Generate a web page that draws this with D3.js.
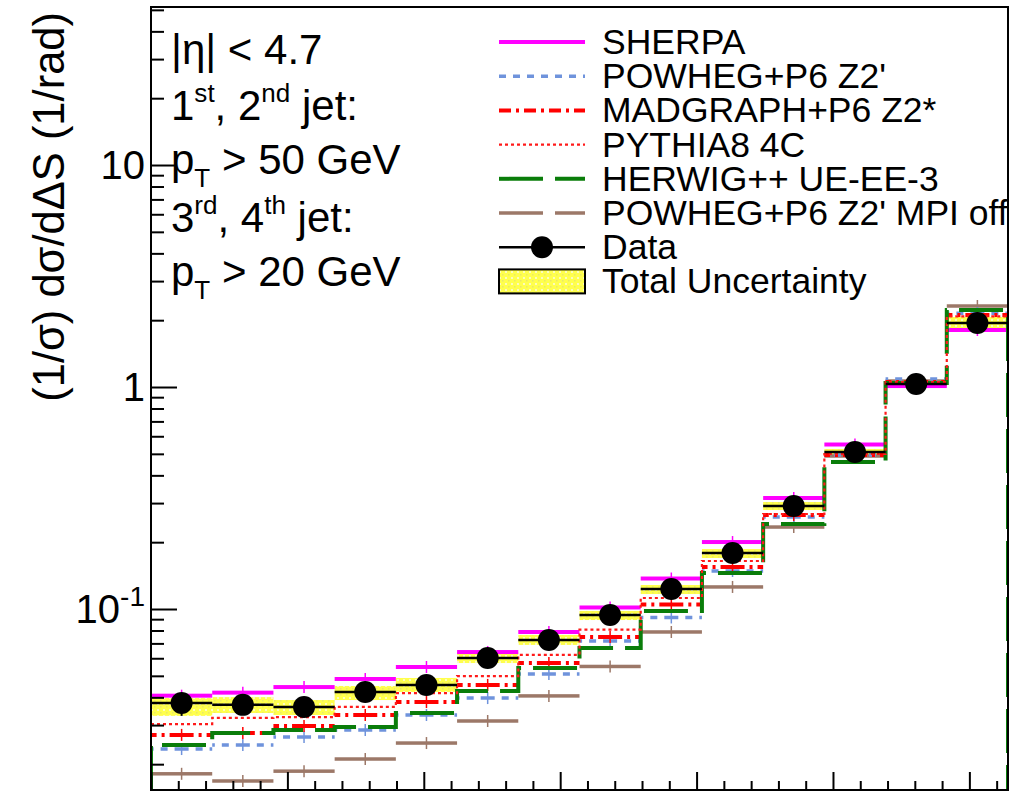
<!DOCTYPE html>
<html>
<head>
<meta charset="utf-8">
<script src="https://cdn.jsdelivr.net/npm/d3@7"></script>
<style>
  body { margin: 0; background: #fff; }
  svg { display: block; }
  text { font-family: "Liberation Sans", Arial, Helvetica, sans-serif; fill: #000; }
</style>
</head>
<body>
<svg id="chart" width="1028" height="791"></svg>
<script>
// Normalised ΔS distribution: 14 equal bins from 0 to π
const binEdges = d3.range(15).map(i => i * Math.PI / 14);

const dataValues = [0.0377, 0.0370, 0.0362, 0.0423, 0.0455, 0.0602, 0.0725, 0.0940, 0.1231, 0.1788, 0.2911, 0.5095, 1.032, 1.942];
const bandLow    = [0.0330, 0.0340, 0.0333, 0.0389, 0.0423, 0.0571, 0.0689, 0.0892, 0.1168, 0.1697, 0.2792, 0.4889, 1.000, 1.844];
const bandHigh   = [0.0397, 0.0401, 0.0389, 0.0450, 0.0489, 0.0640, 0.0764, 0.0980, 0.1283, 0.1863, 0.3034, 0.5256, 1.064, 2.067];

const sherpaValues   = [0.0407, 0.0420, 0.0445, 0.0484, 0.0548, 0.0640, 0.0788, 0.1016, 0.1372, 0.2003, 0.3162, 0.5508, 1.010, 1.806];
const powhegValues   = [0.0234, 0.0244, 0.0265, 0.0285, 0.0333, 0.0397, 0.0509, 0.0718, 0.0916, 0.1483, 0.2597, 0.4940, 1.086, 2.150];
const madgraphValues = [0.0271, 0.0276, 0.0297, 0.0333, 0.0381, 0.0455, 0.0571, 0.0748, 0.1048, 0.1546, 0.2652, 0.4940, 1.053, 2.110];
const pythia8Values  = [0.0303, 0.0323, 0.0326, 0.0362, 0.0418, 0.0499, 0.0621, 0.0808, 0.1121, 0.1645, 0.2679, 0.4992, 1.053, 2.080];
const herwigValues   = [0.0244, 0.0276, 0.0285, 0.0294, 0.0340, 0.0427, 0.0542, 0.0667, 0.0980, 0.1453, 0.2415, 0.4594, 1.042, 2.222];
const mpiOffValues   = [0.0181, 0.0168, 0.0186, 0.0211, 0.0249, 0.0313, 0.0406, 0.0551, 0.0788, 0.1257, 0.2340, 0.4889, 1.064, 2.317];

const yMajorTicks = [0.1, 1, 10];
const xMajorTicks = [0, 0.5, 1, 1.5, 2, 2.5, 3];

const infoLines = [
  [{t: "|η| < 4.7"}],
  [{t: "1"}, {t: "st", s: "sup"}, {t: ", 2"}, {t: "nd", s: "sup"}, {t: " jet:"}],
  [{t: "p"}, {t: "T", s: "sub"}, {t: " > 50 GeV"}],
  [{t: "3"}, {t: "rd", s: "sup"}, {t: ", 4"}, {t: "th", s: "sup"}, {t: " jet:"}],
  [{t: "p"}, {t: "T", s: "sub"}, {t: " > 20 GeV"}]
];

// Monte Carlo predictions: "bars" = per-bin error-bar style, "steps" = histogram outline
const models = [
  {name: "SHERPA",                 values: sherpaValues,   color: "#ff00ff", dash: null,          width: 4,   style: "bars"},
  {name: "POWHEG+P6 Z2'",          values: powhegValues,   color: "#6f93dc", dash: "7,7",        width: 3.5, style: "bars"},
  {name: "MADGRAPH+P6 Z2*",        values: madgraphValues, color: "#ff0000", dash: "12,5,3,5",   width: 4,   style: "bars"},
  {name: "PYTHIA8 4C",             values: pythia8Values,  color: "#ff1a1a", dash: "3,3",        width: 2.2, style: "steps"},
  {name: "HERWIG++ UE-EE-3",       values: herwigValues,   color: "#0a7d0a", dash: "44,12",      width: 4,   style: "steps"},
  {name: "POWHEG+P6 Z2' MPI off",  values: mpiOffValues,   color: "#9c7868", dash: "44,12",      width: 3.5, style: "bars"}
];
const drawOrder = [5, 1, 2, 0, 4, 3];

const frame = {left: 151, right: 1008, top: 7, bottom: 790};

const svg = d3.select("#chart");
const x = d3.scaleLinear().domain([0, Math.PI]).range([frame.left, frame.right]);
const y = d3.scaleLog().domain([0.0153, 51.5]).range([frame.bottom, frame.top]);

const defs = svg.append("defs");
defs.append("clipPath").attr("id", "plotClip")
  .append("rect")
  .attr("x", frame.left).attr("y", frame.top)
  .attr("width", frame.right - frame.left).attr("height", frame.bottom - frame.top);

const pat = defs.append("pattern").attr("id", "bandFill")
  .attr("patternUnits", "userSpaceOnUse").attr("width", 6).attr("height", 6);
pat.append("rect").attr("width", 6).attr("height", 6).attr("fill", "#ffff4d");
pat.append("rect").attr("x", 1).attr("y", 1).attr("width", 2).attr("height", 2).attr("fill", "#fbfbc0");
pat.append("rect").attr("x", 4).attr("y", 4).attr("width", 1.5).attr("height", 1.5).attr("fill", "#e8e86a");

const bins = d3.range(14).map(i => ({lo: binEdges[i], hi: binEdges[i + 1], mid: (binEdges[i] + binEdges[i + 1]) / 2, i}));

const plot = svg.append("g").attr("clip-path", "url(#plotClip)");

// total uncertainty band
plot.append("g").selectAll("rect").data(bins).join("rect")
  .attr("x", d => x(d.lo)).attr("width", d => x(d.hi) - x(d.lo))
  .attr("y", d => y(bandHigh[d.i]))
  .attr("height", d => y(bandLow[d.i]) - y(bandHigh[d.i]))
  .attr("fill", "url(#bandFill)");

// model predictions
drawOrder.forEach(k => {
  const m = models[k];
  const g = plot.append("g");
  if (m.style === "bars") {
    // horizontal bars drawn outward from the bin centre, as error-bar halves
    const halves = bins.flatMap(d => [{d, end: d.lo}, {d, end: d.hi}]);
    g.selectAll("line.h").data(halves).join("line").attr("class", "h")
      .attr("x1", h => x(h.d.mid)).attr("x2", h => x(h.end))
      .attr("y1", h => y(m.values[h.d.i])).attr("y2", h => y(m.values[h.d.i]))
      .attr("stroke", m.color).attr("stroke-width", m.width)
      .attr("stroke-dasharray", m.dash);
    g.selectAll("line.v").data(bins).join("line").attr("class", "v")
      .attr("x1", d => x(d.mid)).attr("x2", d => x(d.mid))
      .attr("y1", d => y(m.values[d.i]) - 6).attr("y2", d => y(m.values[d.i]) + 6)
      .attr("stroke", m.color).attr("stroke-width", 1.5);
  } else {
    const floor = y.domain()[0];
    const pts = [];
    if (k === 4) pts.push([binEdges[0], floor]);
    m.values.forEach((v, i) => { pts.push([binEdges[i], v]); pts.push([binEdges[i + 1], v]); });
    if (k === 4) pts.push([binEdges[14], floor]);
    g.append("path")
      .attr("d", d3.line().x(p => x(p[0])).y(p => y(p[1]))(pts))
      .attr("fill", "none").attr("stroke", m.color).attr("stroke-width", m.width)
      .attr("stroke-dasharray", m.dash);
  }
});

// data: horizontal bin bars, error bars and markers
const dg = plot.append("g");
dg.selectAll("line.h").data(bins).join("line").attr("class", "h")
  .attr("x1", d => x(d.lo)).attr("x2", d => x(d.hi))
  .attr("y1", d => y(dataValues[d.i])).attr("y2", d => y(dataValues[d.i]))
  .attr("stroke", "#000").attr("stroke-width", 2.5);
dg.selectAll("line.v").data(bins).join("line").attr("class", "v")
  .attr("x1", d => x(d.mid)).attr("x2", d => x(d.mid))
  .attr("y1", d => y(bandHigh[d.i])).attr("y2", d => y(bandLow[d.i]))
  .attr("stroke", "#000").attr("stroke-width", 2);
dg.selectAll("circle").data(bins).join("circle")
  .attr("cx", d => x(d.mid)).attr("cy", d => y(dataValues[d.i]))
  .attr("r", 11).attr("fill", "#000");

// axes
const axesG = svg.append("g");
const yMinor = [];
[0.01, 0.1, 1, 10].forEach(dec => d3.range(2, 10).forEach(j => {
  const v = dec * j;
  if (v > y.domain()[0] && v < y.domain()[1]) yMinor.push(v);
}));
axesG.append("g").attr("transform", `translate(${frame.left},0)`)
  .call(d3.axisRight(y).tickValues(yMinor).tickSize(13).tickFormat(""))
  .call(g => g.select(".domain").remove())
  .call(g => g.selectAll("line").attr("stroke-width", 2));
axesG.append("g").attr("transform", `translate(${frame.left},0)`)
  .call(d3.axisRight(y).tickValues(yMajorTicks).tickSize(26).tickFormat(""))
  .call(g => g.select(".domain").remove())
  .call(g => g.selectAll("line").attr("stroke-width", 2));

const xMinor = d3.range(1, 32).map(i => i / 10).filter(v => Math.abs(v * 2 - Math.round(v * 2)) > 1e-6);
axesG.append("g").attr("transform", `translate(0,${frame.bottom})`)
  .call(d3.axisTop(x).tickValues(xMinor).tickSize(9).tickFormat(""))
  .call(g => g.select(".domain").remove())
  .call(g => g.selectAll("line").attr("stroke-width", 2));
axesG.append("g").attr("transform", `translate(0,${frame.bottom})`)
  .call(d3.axisTop(x).tickValues(xMajorTicks).tickSize(18).tickFormat(""))
  .call(g => g.select(".domain").remove())
  .call(g => g.selectAll("line").attr("stroke-width", 2));

// frame
svg.append("rect")
  .attr("x", frame.left).attr("y", frame.top)
  .attr("width", frame.right - frame.left).attr("height", frame.bottom - frame.top)
  .attr("fill", "none").attr("stroke", "#000").attr("stroke-width", 2);

// y tick labels
const yLab = svg.append("g").attr("font-size", 40);
yMajorTicks.forEach(v => {
  const exp = Math.round(Math.log10(v));
  const t = yLab.append("text").attr("x", 145).attr("y", y(v) + 14).attr("text-anchor", "end");
  if (exp === 0) t.text("1");
  else if (exp === 1) t.text("10");
  else {
    t.append("tspan").text("10");
    t.append("tspan").attr("font-size", 28).attr("dy", -17).text("-" + Math.abs(exp));
  }
});

// y axis title
svg.append("text")
  .attr("transform", `translate(64,12) rotate(-90)`)
  .attr("text-anchor", "end").attr("font-size", 43.5)
  .text("(1/σ) dσ/dΔS (1/rad)");

// rich text helper for super/subscripts: each shift is undone on the following piece
function richText(sel, parts, size) {
  let pending = 0;
  parts.forEach(p => {
    let shift = 0;
    if (p.s === "sup") shift = -size * 0.42;
    else if (p.s === "sub") shift = size * 0.3;
    const ts = sel.append("tspan").text(p.t);
    if (pending + shift !== 0) ts.attr("dy", pending + shift);
    if (p.s) ts.attr("font-size", size * 0.62);
    pending = -shift;
  });
}

const infoSize = 42;
const infoBase = [64, 120, 174, 232, 286];
infoLines.forEach((parts, i) => {
  const t = svg.append("text").attr("x", 171).attr("y", infoBase[i]).attr("font-size", infoSize);
  richText(t, parts, infoSize);
});

// legend
const legend = svg.append("g");
const legSize = 35.5;
const legRow = i => 42 + i * 34.2;
const symX0 = 499, symX1 = 585, textX = 602;
models.forEach((m, i) => {
  legend.append("line")
    .attr("x1", symX0).attr("x2", symX1).attr("y1", legRow(i)).attr("y2", legRow(i))
    .attr("stroke", m.color).attr("stroke-width", m.width)
    .attr("stroke-dasharray", m.dash);
  legend.append("text").attr("x", textX).attr("y", legRow(i) + 12).attr("font-size", legSize).text(m.name);
});
const dataRow = legRow(6);
legend.append("line").attr("x1", symX0).attr("x2", symX1).attr("y1", dataRow).attr("y2", dataRow)
  .attr("stroke", "#000").attr("stroke-width", 2.5);
legend.append("circle").attr("cx", (symX0 + symX1) / 2).attr("cy", dataRow).attr("r", 11).attr("fill", "#000");
legend.append("text").attr("x", textX).attr("y", dataRow + 12).attr("font-size", legSize).text("Data");
const boxRow = legRow(7);
legend.append("rect").attr("x", symX0).attr("y", boxRow - 12).attr("width", symX1 - symX0).attr("height", 24)
  .attr("fill", "url(#bandFill)").attr("stroke", "#000").attr("stroke-width", 2);
legend.append("text").attr("x", textX).attr("y", boxRow + 12).attr("font-size", legSize).text("Total Uncertainty");
</script>
</body>
</html>
